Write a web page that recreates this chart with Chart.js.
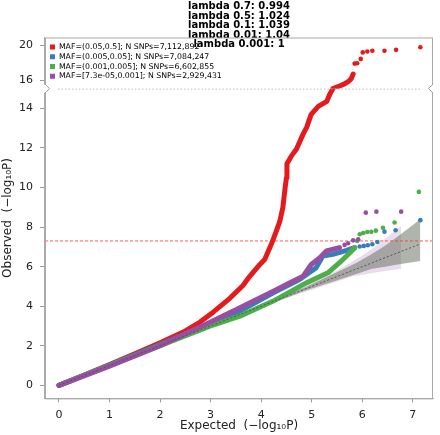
<!DOCTYPE html>
<html>
<head>
<meta charset="utf-8">
<script src="https://cdn.jsdelivr.net/npm/chart.js@4.4.1/dist/chart.umd.min.js"></script>
<style>
  html,body{margin:0;padding:0;background:#fff}
  #wrap{width:440px;height:435px}
</style>
</head>
<body>
<div id="wrap"><canvas id="qq"></canvas></div>
<script>
// ===== Data =====
const titleLines = ['lambda 0.7: 0.994','lambda 0.5: 1.024','lambda 0.1: 1.039','lambda 0.01: 1.04','lambda 0.001: 1'];
const seriesNames = [
  'MAF=(0.05,0.5]; N SNPs=7,112,892',
  'MAF=(0.005,0.05]; N SNPs=7,084,247',
  'MAF=(0.001,0.005]; N SNPs=6,602,855',
  'MAF=[7.3e-05,0.001]; N SNPs=2,929,431'
];
const seriesColors = ['#e41a1c','#377eb8','#4daf4a','#984ea3'];

const xTicks = [0,1,2,3,4,5,6,7];
const yLowTicks = [0,1,2,3,4,5,6,7,8,9,10,11,12,13,14,15];
const yTopTicks = [16,18,20];
const gwasLine = 7.3;

// [expected, observed]
const redLow = [[0,0],[0.5,0.52],[1,1.05],[1.5,1.6],[2,2.15],[2.5,2.75],[2.79,3.2],[3.05,3.7],[3.38,4.4],[3.64,5.05],[3.77,5.5],[3.97,6.1],[4.07,6.36],[4.2,7.13],[4.3,7.8],[4.37,8.3],[4.43,9.0],[4.47,9.9],[4.5,10.5],[4.51,11.2],[4.6,11.6],[4.7,11.95],[4.83,12.7],[4.9,13.04],[4.99,13.7],[5.13,14.1],[5.3,14.36],[5.36,14.73],[5.42,15.0]];
const redHighLine = [[5.42,15.0],[5.55,15.3],[5.65,15.55],[5.72,15.8],[5.78,16.13],[5.82,16.7]];
const redHighDots = [[5.85,17.9],[5.9,17.95],[5.97,18.45],[6.01,19.2],[6.1,19.3],[6.2,19.4],[6.44,19.4],[6.67,19.5],[7.15,19.8]];
const blueBody = [[0,0],[1,1.02],[2,2.06],[3,3.15],[3.58,3.75],[4.24,4.68],[4.76,5.35],[5.09,5.95],[5.22,6.54],[5.42,6.62],[5.69,6.82],[5.85,6.96]];
const blueTail = [[5.95,7.02],[6.03,7.05],[6.11,7.08],[6.2,7.13],[6.3,7.25],[6.44,7.77],[6.66,7.84],[7.15,8.35]];
const greenBody = [[0,0],[1,1.0],[2,2.0],[3,3.0],[3.58,3.5],[4.24,4.26],[4.9,5.19],[5.32,5.69],[5.55,6.2],[5.69,6.54],[5.85,6.95]];
const greenTail = [[5.9,7.3],[5.95,7.64],[6.02,7.7],[6.1,7.75],[6.18,7.76],[6.27,7.82],[6.41,7.97],[6.64,8.23],[7.12,9.78]];
const purpleBody = [[0,0],[1,0.97],[2,2.0],[3,3.2],[3.58,3.92],[4.24,4.76],[4.57,5.19],[4.83,5.52],[4.99,6.11],[5.16,6.45],[5.29,6.79],[5.55,6.96]];
const purpleTail = [[5.65,7.1],[5.72,7.18],[5.82,7.33],[5.92,7.38],[6.07,8.73],[6.28,8.78],[6.77,8.78]];

// confidence bands
const bandAllX  = [3.0, 4.0, 4.85, 5.87, 6.19, 6.45, 6.67, 7.15];
const bandAllHi = [3.03, 4.06, 4.94, 6.17, 6.64, 7.06, 7.46, 8.4];
const bandAllLo = [2.97, 3.94, 4.77, 5.62, 5.89, 5.99, 6.1, 6.28];
const bandRareX  = [3.0, 4.47, 5.49, 5.81, 6.07, 6.29, 6.77];
const bandRareHi = [3.03, 4.56, 5.79, 6.26, 6.68, 7.08, 8.07];
const bandRareLo = [2.97, 4.39, 5.24, 5.51, 5.61, 5.72, 5.9];

// axis ranges
const X_MIN = -0.277, X_MAX = 7.40;
const Y_LOW_MIN = -0.66, Y_BREAK = 15, Y_TOP_MAX = 20.93;

// ===== Helpers =====
const pts = arr => arr.map(([x,y]) => ({x, y}));
const zip = (xs, ys) => xs.map((x,i) => ({x, y: ys[i]}));
const body = (data, color, yAxisID, order) => ({
  data: pts(data), yAxisID, order, showLine: true, borderColor: color, backgroundColor: color,
  borderWidth: 5, pointRadius: 0, borderCapStyle: 'round', borderJoinStyle: 'round', tension: 0
});
const dots = (data, color, yAxisID, order) => ({
  data: pts(data), yAxisID, order, showLine: false, backgroundColor: color, borderWidth: 0, pointRadius: 2.3
});
const band = (xs, ys, color, order, fill) => ({
  data: zip(xs, ys), yAxisID: 'yLow', order, showLine: true, borderWidth: 0, pointRadius: 0,
  backgroundColor: color, fill: fill || false
});

Chart.defaults.font.family = 'DejaVu Sans';
Chart.defaults.color = '#222';

// ===== Plugins =====
// legend sits inside the plot, top-left (Chart.js resets its top to 0 for vertical legends)
const LEG_DX = 3, LEG_DY = 3.5;
const legendInside = {
  id: 'legendInside',
  afterLayout(chart){
    const lg = chart.legend, a = chart.chartArea; if(!lg) return;
    const w = lg.width, h = lg.height;
    lg.left = a.left + LEG_DX; lg.right = lg.left + w;
    lg.top = a.top + LEG_DY; lg.bottom = lg.top + h;
  }
};
const frame = {
  id: 'frame',
  afterDatasetsDraw(chart){
    const {ctx, chartArea: a} = chart;
    const yb = chart.scales.yLow.top;
    ctx.save();
    ctx.strokeStyle = '#aaa'; ctx.lineWidth = 1;
    ctx.strokeRect(a.left + 0.5, a.top + 0.5, a.right - a.left - 1, a.bottom - a.top);
    // dotted break line
    ctx.setLineDash([1.5, 2]); ctx.strokeStyle = 'rgba(160,160,160,0.7)';
    ctx.beginPath(); ctx.moveTo(a.left + 13, yb + 0.5); ctx.lineTo(a.right - 13, yb + 0.5); ctx.stroke();
    ctx.setLineDash([]);
    // zig-zag break marks
    [[a.left + 0.5, 1], [a.right - 0.5, -1]].forEach(([x, dir]) => {
      ctx.fillStyle = '#fff'; ctx.fillRect(x - 2, yb - 4, 4, 8);
      ctx.strokeStyle = '#999';
      ctx.beginPath();
      ctx.moveTo(x, yb - 5); ctx.lineTo(x, yb - 4);
      ctx.lineTo(x + dir * 4, yb); ctx.lineTo(x, yb + 4); ctx.lineTo(x, yb + 5);
      ctx.stroke();
    });
    ctx.restore();
  }
};

// ===== Chart =====
const tickFont = {size: 11};
new Chart(document.getElementById('qq'), {
  type: 'scatter',
  data: {
    datasets: [
      band(bandAllX, bandAllLo, 'rgba(0,0,0,0)', 30),
      band(bandAllX, bandAllHi, 'rgba(95,108,88,0.5)', 30, '-1'),
      band(bandRareX, bandRareLo, 'rgba(0,0,0,0)', 31),
      band(bandRareX, bandRareHi, 'rgba(152,78,163,0.2)', 31, '-1'),
      { data: [{x: X_MIN, y: gwasLine}, {x: X_MAX, y: gwasLine}], yAxisID: 'yLow', order: 20, showLine: true,
        borderColor: 'rgba(255,50,50,0.8)', borderWidth: 1, borderDash: [3, 2], pointRadius: 0 },
      body(redLow, seriesColors[0], 'yLow', 8),
      body(redHighLine, seriesColors[0], 'yTop', 8),
      dots(redHighDots, seriesColors[0], 'yTop', 8),
      body(blueBody, seriesColors[1], 'yLow', 6),
      dots(blueTail, seriesColors[1], 'yLow', 6),
      body(greenBody, seriesColors[2], 'yLow', 4),
      dots(greenTail, seriesColors[2], 'yLow', 4),
      body(purpleBody, seriesColors[3], 'yLow', 2),
      dots(purpleTail, seriesColors[3], 'yLow', 2),
      { data: [{x: 0, y: 0}, {x: 7.15, y: 7.15}], yAxisID: 'yLow', order: 0, showLine: true,
        borderColor: '#555', borderWidth: 1, borderDash: [2, 2], pointRadius: 0 }
    ]
  },
  options: {
    responsive: true, maintainAspectRatio: false, animation: false,
    layout: {padding: {left: 0, right: 7, top: 0, bottom: 0}},
    plugins: {
      tooltip: {enabled: false},
      title: {
        display: true, text: titleLines, fullSize: false, color: '#000',
        font: {size: 10, weight: 'bold', lineHeight: 0.95},
        padding: {top: 2, bottom: -12}
      },
      legend: {
        position: 'chartArea', align: 'start',
        labels: {
          boxWidth: 5, boxHeight: 5, padding: 2, font: {size: 7.8}, color: '#222',
          generateLabels: () => seriesNames.map((t, i) => ({
            text: t, fillStyle: seriesColors[i], strokeStyle: seriesColors[i], lineWidth: 0, hidden: false, datasetIndex: i
          }))
        }
      }
    },
    scales: {
      x: {
        type: 'linear', min: X_MIN, max: X_MAX,
        afterBuildTicks: s => { s.ticks = xTicks.map(v => ({value: v})); },
        grid: {drawOnChartArea: false, drawTicks: true, tickLength: 4, color: '#999'},
        border: {display: true, color: '#aaa'},
        ticks: {font: tickFont, padding: 6, maxRotation: 0, color: '#222'},
        title: {display: true, text: 'Expected  (\u2212log\u2081\u2080P)', font: {size: 12}, padding: {top: -9, bottom: 2}, color: '#222'}
      },
      yLow: {
        type: 'linear', position: 'left', stack: 'obs', stackWeight: 309, weight: 0,
        min: Y_LOW_MIN, max: Y_BREAK,
        afterBuildTicks: s => { s.ticks = yLowTicks.map(v => ({value: v})); },
        grid: {drawOnChartArea: false, drawTicks: true, tickLength: 5, color: '#999'},
        border: {display: true, color: '#aaa'},
        ticks: {font: tickFont, padding: 7, color: '#222'}
      },
      yTop: {
        type: 'linear', position: 'left', stack: 'obs', stackWeight: 51, weight: 1,
        min: Y_BREAK, max: Y_TOP_MAX,
        afterBuildTicks: s => { s.ticks = yTopTicks.map(v => ({value: v})); },
        grid: {drawOnChartArea: false, drawTicks: true, tickLength: 5, color: '#999'},
        border: {display: true, color: '#aaa'},
        ticks: {font: tickFont, padding: 7, color: '#222'}
      },
      yTitle: {
        type: 'linear', position: 'left', weight: 2,
        grid: {display: false, drawTicks: false},
        border: {display: false},
        ticks: {display: false},
        title: {display: true, text: 'Observed  (\u2212log\u2081\u2080P)', font: {size: 12}, padding: {top: 1, bottom: -3.4}, color: '#222'}
      }
    }
  },
  plugins: [legendInside, frame]
});
</script>
</body>
</html>
